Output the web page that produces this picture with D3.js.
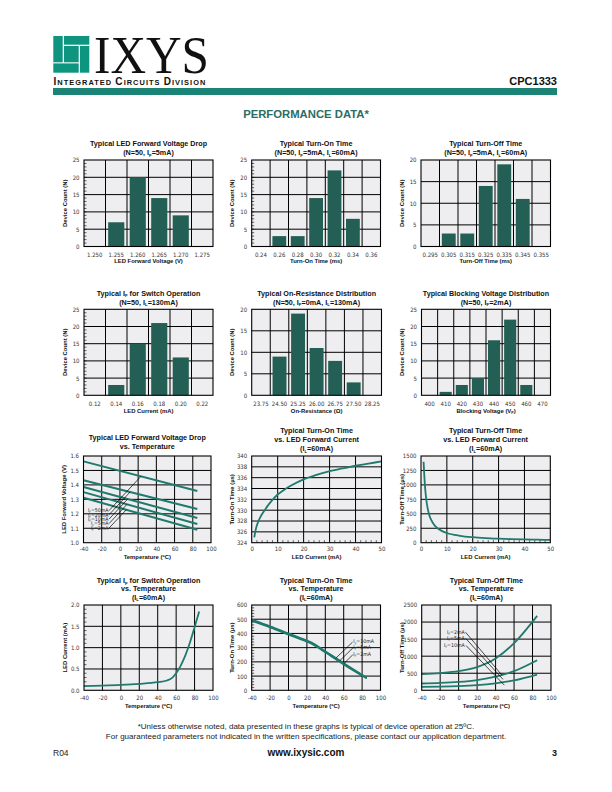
<!DOCTYPE html>
<html><head><meta charset="utf-8">
<script src="https://cdn.jsdelivr.net/npm/d3@7"></script>
<style>body{margin:0;background:#fff}svg{display:block}</style>
</head><body>
<script>
// ---------------- DATA ----------------
// Histograms
const vfCats=["1.250","1.255","1.260","1.265","1.270","1.275"];
const vfCounts=[0,7,20,14,9,0];
const tonCats=["0.24","0.26","0.28","0.30","0.32","0.34","0.36"];
const tonCounts=[0,3,3,14,22,8,0];
const toffCats=["0.295","0.305","0.315","0.325","0.335","0.345","0.355"];
const toffCounts=[0,3,3,14,19,11,0];
const ifCats=["0.12","0.14","0.16","0.18","0.20","0.22"];
const ifCounts=[0,3,15,21,11,0];
const ronCats=["23.75","24.50","25.25","26.00","26.75","27.50","28.25"];
const ronCounts=[0,9,19,11,8,3,0];
const bvCats=["400","410","420","430","440","450","460","470"];
const bvCounts=[0,1,3,5,16,22,3,0];
const countTicks25=[0,5,10,15,20,25];
const countTicks20=[0,5,10,15,20];

// LED forward voltage vs temperature
const tempTicks=[-40,-20,0,20,40,60,80,100];
const vfTempX=[-40,85];
const vf50=[1.563,1.358];
const vf20=[1.432,1.233];
const vf10=[1.385,1.171];
const vf5=[1.350,1.129];
const vf2=[1.311,1.090];
const vfLabels=["I{F}=50mA","I{F}=20mA","I{F}=10mA","I{F}=5mA","I{F}=2mA"];
const vfTicks=[1.0,1.1,1.2,1.3,1.4,1.5,1.6];

// Turn-on time vs LED current
const ledCurTicks=[0,10,20,30,40,50];
const tonCur=[1,1.5,2,3,4,5,6,8,10,12,15,20,25,30,35,40,45,50];
const tonUs=[325.0,326.3,327.2,328.4,329.3,330.0,330.7,331.9,332.9,333.6,334.5,335.7,336.5,337.2,337.7,338.2,338.6,339.0];
const tonTicks=[324,326,328,330,332,334,336,338,340];

// Turn-off time vs LED current
const toffCur=[1,1.5,2,3,4,5,6,8,10,15,20,25,30,35,40,45,50];
const toffUs=[1400,1000,760,510,390,315,265,205,168,120,95,80,70,62,56,52,48];
const toffTicks=[0,250,500,750,1000,1250,1500];

// IF for switch operation vs temperature
const ifTemp=[-40,-20,0,20,40,50,55,60,65,70,75,80,85];
const ifMa=[0.10,0.11,0.125,0.15,0.19,0.23,0.28,0.40,0.58,0.82,1.12,1.48,1.85];
const ifTicks=[0.0,0.5,1.0,1.5,2.0];

// Turn-on time vs temperature
const tonTemp=[-40,-20,0,20,25,40,60,85];
const tonT10=[497,450,400,350,336,275,190,88];
const tonT5=[493,446,396,346,332,271,186,86];
const tonT2=[489,442,392,342,328,267,182,84];
const tonTLabels=["I{F}=10mA","I{F}=5mA","I{F}=2mA"];
const tonTTicks=[0,100,200,300,400,500,600];

// Turn-off time vs temperature
const toffTemp=[-40,-20,0,20,40,60,85];
const toffT2=[475,505,560,680,930,1380,2180];
const toffT5=[200,215,245,300,400,560,880];
const toffT10=[100,105,120,150,205,290,460];
const toffTLabels=["I{F}=2mA","I{F}=5mA","I{F}=10mA"];
const toffTTicks=[0,500,1000,1500,2000,2500];

// ---------------- STYLE ----------------
const BG="#eeeef0", BAR="#235f55", LINE="#1f7a6d", TEAL="#1b8476", LOGO="#0e9580";
const SANS="'Liberation Sans',Arial,Helvetica,sans-serif";
const NARROW="'Liberation Sans Narrow','Arial Narrow','DejaVu Sans Condensed','Liberation Sans',sans-serif";
const GW=1.0;

const svg=d3.select("body").append("svg").attr("width",612).attr("height",792).attr("font-family",SANS);

function rich(sel,s){
  const fs=+sel.attr("font-size");
  const parts=[];
  s.replace(/\{([^}]*)\}|([^{]+)/g,(a,sb,nm)=>{parts.push(sb!==undefined?{t:sb,sub:true}:{t:nm,sub:false});return a;});
  let sh=false;
  parts.forEach(p=>{
    const ts=sel.append("tspan").text(p.t);
    if(p.sub){ts.attr("font-size",fs*0.6).attr("dy",fs*0.22);sh=true;}
    else if(sh){ts.attr("dy",-fs*0.22);sh=false;}
  });
  return sel;
}
function titles(cx,bases,lines){
  lines.forEach((l,i)=>{
    rich(svg.append("text").attr("x",cx).attr("y",bases[i]).attr("text-anchor","middle")
      .attr("font-size",7.2).attr("font-weight","bold").attr("fill","#111"),l);
  });
}
function xTitle(cx,base,s){
  rich(svg.append("text").attr("x",cx).attr("y",base).attr("text-anchor","middle")
    .attr("font-size",5.9).attr("font-weight","bold").attr("fill","#111"),s);
}
function yTitle(cx,cy,s){
  rich(svg.append("text").attr("transform",`translate(${cx+2.1},${cy}) rotate(-90)`).attr("text-anchor","middle")
    .attr("font-size",5.9).attr("font-weight","bold").attr("fill","#111"),s);
}
function styleTicks(a){
  a.select(".domain").remove();
  a.selectAll("text").attr("font-family",NARROW).attr("font-size",6).attr("fill","#333");
}
function gridAndFrame(g,x0,x1,y0,y1,xs,ys,x,y){
  g.append("rect").attr("x",x0).attr("y",y0).attr("width",x1-x0).attr("height",y1-y0).attr("fill",BG);
  g.append("g").selectAll("line").data(xs).join("line")
    .attr("x1",d=>x(d)).attr("x2",d=>x(d)).attr("y1",y0).attr("y2",y1).attr("stroke","#000").attr("stroke-width",GW);
  g.append("g").selectAll("line").data(ys).join("line")
    .attr("x1",x0).attr("x2",x1).attr("y1",d=>y(d)).attr("y2",d=>y(d)).attr("stroke","#000").attr("stroke-width",GW);
}
function borderRect(g,x0,x1,y0,y1){
  g.append("rect").attr("x",x0).attr("y",y0).attr("width",x1-x0).attr("height",y1-y0)
    .attr("fill","none").attr("stroke","#000").attr("stroke-width",1.1);
}
function minorY(g,y,x0,vals){
  g.append("g").selectAll("line").data(vals).join("line").attr("x1",x0).attr("x2",x0+2.5)
    .attr("y1",d=>y(d)).attr("y2",d=>y(d)).attr("stroke","#000").attr("stroke-width",0.6);
}
function minorX(g,x,y1,vals){
  g.append("g").selectAll("line").data(vals).join("line").attr("x1",d=>x(d)).attr("x2",d=>x(d))
    .attr("y1",y1).attr("y2",y1-2.5).attr("stroke","#000").attr("stroke-width",0.6);
}

function histogram(c){
  const g=svg.append("g");
  const x=d3.scaleBand().domain(c.cats).range([c.x0,c.x1]);
  const y=d3.scaleLinear().domain([0,c.yTicks[c.yTicks.length-1]]).range([c.y1,c.y0]);
  g.append("rect").attr("x",c.x0).attr("y",c.y0).attr("width",c.x1-c.x0).attr("height",c.y1-c.y0).attr("fill",BG);
  g.append("g").selectAll("line").data(c.cats.slice(1)).join("line")
    .attr("x1",d=>x(d)).attr("x2",d=>x(d)).attr("y1",c.y0).attr("y2",c.y1).attr("stroke","#000").attr("stroke-width",GW);
  g.append("g").selectAll("line").data(c.yTicks.slice(1,-1)).join("line")
    .attr("x1",c.x0).attr("x2",c.x1).attr("y1",d=>y(d)).attr("y2",d=>y(d)).attr("stroke","#000").attr("stroke-width",GW);
  if(c.minor) minorY(g,y,c.x0,d3.range(1,c.yTicks[c.yTicks.length-1]));
  g.append("g").selectAll("rect").data(c.cats).join("rect")
    .attr("x",d=>x(d)+x.bandwidth()*0.125).attr("width",x.bandwidth()*0.75)
    .attr("y",(d,i)=>y(c.counts[i])).attr("height",(d,i)=>y(0)-y(c.counts[i])).attr("fill",BAR);
  borderRect(g,c.x0,c.x1,c.y0,c.y1);
  const ay=g.append("g").attr("transform",`translate(${c.x0},0)`).call(d3.axisLeft(y).tickValues(c.yTicks).tickSize(0).tickPadding(4.5));
  styleTicks(ay);
  const ax=g.append("g").attr("transform",`translate(0,${c.y1})`).call(d3.axisBottom(x).tickSize(0));
  styleTicks(ax); ax.selectAll("text").attr("dy",null).attr("y",c.xlb-c.y1);
  titles((c.x0+c.x1)/2,c.tb,c.title);
  xTitle((c.x0+c.x1)/2,c.xtb,c.xt);
  yTitle(c.x0-19.5,(c.y0+c.y1)/2,c.yt);
}

function lineChart(c){
  const g=svg.append("g");
  const x=d3.scaleLinear().domain([c.xTicks[0],c.xTicks[c.xTicks.length-1]]).range([c.x0,c.x1]);
  const y=d3.scaleLinear().domain([c.yTicks[0],c.yTicks[c.yTicks.length-1]]).range([c.y1,c.y0]);
  gridAndFrame(g,c.x0,c.x1,c.y0,c.y1,c.xTicks.slice(1,-1),c.yTicks.slice(1,-1),x,y);
  if(c.minorY) minorY(g,y,c.x0,c.minorY);
  if(c.minorX) minorX(g,x,c.y1,c.minorX);
  const ay=g.append("g").attr("transform",`translate(${c.x0},0)`).call(d3.axisLeft(y).tickValues(c.yTicks).tickSize(0).tickPadding(4.5).tickFormat(c.yFmt||(d=>d)));
  styleTicks(ay);
  const ax=g.append("g").attr("transform",`translate(0,${c.y1})`).call(d3.axisBottom(x).tickValues(c.xTicks).tickSize(0).tickFormat(d=>d));
  styleTicks(ax); ax.selectAll("text").attr("dy",null).attr("y",c.xlb-c.y1);
  titles((c.x0+c.x1)/2,c.tb,c.title);
  xTitle((c.x0+c.x1)/2,c.xtb,c.xt);
  yTitle(c.x0-19.5,(c.y0+c.y1)/2,c.yt);
  const plot=g.append("g");
  const border=()=>borderRect(g,c.x0,c.x1,c.y0,c.y1);
  return {g:plot,x,y,border};
}
function drawLine(ch,xs,ys,w,col){
  const line=d3.line().x(d=>ch.x(d[0])).y(d=>ch.y(d[1])).curve(d3.curveMonotoneX);
  ch.g.append("path").attr("d",line(xs.map((v,i)=>[v,ys[i]]))).attr("fill","none")
    .attr("stroke",col||LINE).attr("stroke-width",w||1.8).attr("stroke-linecap","butt");
}
function leader(ch,a,b){
  ch.g.append("line").attr("x1",ch.x(a[0])).attr("y1",ch.y(a[1])).attr("x2",ch.x(b[0])).attr("y2",ch.y(b[1]))
    .attr("stroke","#000").attr("stroke-width",0.7);
}
function label(ch,p,s,anchor){
  rich(ch.g.append("text").attr("x",ch.x(p[0])).attr("y",ch.y(p[1])).attr("text-anchor",anchor)
    .attr("font-family",NARROW).attr("font-size",5.2).attr("fill","#222"),s);
}

// ---------------- HEADER ----------------
const lg=svg.append("g").attr("fill",LOGO);
lg.append("rect").attr("x",53.3).attr("y",36).attr("width",9.4).attr("height",26.3);
lg.append("rect").attr("x",64).attr("y",36).attr("width",25.3).attr("height",8.7);
lg.append("rect").attr("x",80).attr("y",46).attr("width",9.3).attr("height",26.7);
lg.append("rect").attr("x",53.3).attr("y",63.4).attr("width",25.4).attr("height",9.3);
lg.append("rect").attr("x",64).attr("y",46).attr("width",14.7).attr("height",16.3);
svg.append("text").attr("x",94).attr("y",72.5).attr("font-family","'Liberation Serif','Times New Roman',serif")
  .attr("font-size",53).attr("textLength",115).attr("lengthAdjust","spacingAndGlyphs").attr("fill","#111").text("IXYS");
const sc=svg.append("text").attr("x",53.5).attr("y",84.5).attr("font-weight","bold").attr("fill","#111")
  .attr("letter-spacing",1.05);
[["I",10],["NTEGRATED ",7.4],["C",10],["IRCUITS ",7.4],["D",10],["IVISION",7.4]].forEach(([t,s])=>sc.append("tspan").attr("font-size",s).text(t));
svg.append("text").attr("x",557).attr("y",84.5).attr("text-anchor","end").attr("font-weight","bold")
  .attr("font-size",11).attr("fill","#111").text("CPC1333");
svg.append("rect").attr("x",53).attr("y",88).attr("width",504).attr("height",7).attr("fill",TEAL);
svg.append("text").attr("x",306).attr("y",117.5).attr("text-anchor","middle").attr("font-weight","bold")
  .attr("font-size",11.3).attr("fill","#2b6e63").text("PERFORMANCE DATA*");

// ---------------- ROW 1 ----------------
const R1={y0:160,y1:246.5,tb:[146.3,155.3],xlb:256.5,xtb:263.3};
histogram({...R1,x0:84,x1:213,cats:vfCats,counts:vfCounts,yTicks:countTicks25,minor:true,
  title:["Typical LED Forward Voltage Drop","(N=50, I{F}=5mA)"],xt:"LED Forward Voltage (V)",yt:"Device Count (N)"});
histogram({...R1,x0:251.7,x1:380.5,cats:tonCats,counts:tonCounts,yTicks:countTicks25,minor:true,
  title:["Typical Turn-On Time","(N=50, I{F}=5mA, I{L}=60mA)"],xt:"Turn-On Time (ms)",yt:"Device Count (N)"});
histogram({...R1,x0:421,x1:550.5,cats:toffCats,counts:toffCounts,yTicks:countTicks20,minor:false,
  title:["Typical Turn-Off Time","(N=50, I{F}=5mA, I{L}=60mA)"],xt:"Turn-Off Time (ms)",yt:"Device Count (N)"});

// ---------------- ROW 2 ----------------
const R2={y0:309.3,y1:395.3,tb:[295.5,304.5],xlb:405.7,xtb:412.5};
histogram({...R2,x0:84,x1:213,cats:ifCats,counts:ifCounts,yTicks:countTicks25,minor:true,
  title:["Typical I{F} for Switch Operation","(N=50, I{L}=130mA)"],xt:"LED Current (mA)",yt:"Device Count (N)"});
histogram({...R2,x0:251.7,x1:381.5,cats:ronCats,counts:ronCounts,yTicks:countTicks20,minor:false,
  title:["Typical On-Resistance Distribution","(N=50, I{F}=0mA, I{L}=130mA)"],xt:"On-Resistance (Ω)",yt:"Device Count (N)"});
histogram({...R2,x0:421.5,x1:550.5,cats:bvCats,counts:bvCounts,yTicks:countTicks25,minor:false,
  title:["Typical Blocking Voltage Distribution","(N=50, I{F}=2mA)"],xt:"Blocking Voltage (V{P})",yt:"Device Count (N)"});

// ---------------- ROW 3 ----------------
const R3={y0:456,y1:542.7,xlb:551.5,xtb:559};
const c7=lineChart({...R3,x0:83.5,x1:211,xTicks:tempTicks,yTicks:vfTicks,yFmt:d3.format(".1f"),
  tb:[440,449.3],title:["Typical LED Forward Voltage Drop","vs. Temperature"],xt:"Temperature (ºC)",yt:"LED Forward Voltage (V)"});
[vf50,vf20,vf10,vf5,vf2].forEach(v=>drawLine(c7,vfTempX,v,2.0));
const vfLabY=[1.210,1.181,1.151,1.120,1.089];
const vfLeadEnd=[[23.2,1.460],[11.2,1.351],[8.5,1.302],[7.8,1.266],[7.0,1.228]];
vfLabels.forEach((s,i)=>{label(c7,[-12.5,vfLabY[i]],s,"end");leader(c7,[-12,vfLabY[i]+0.012],vfLeadEnd[i]);});
c7.border();

const c8=lineChart({...R3,x0:251.7,x1:381.5,xTicks:ledCurTicks,yTicks:tonTicks,minorX:d3.range(2,50,2).filter(d=>d%10),
  tb:[433,442,451.3],title:["Typical Turn-On Time","vs. LED Forward Current","(I{L}=60mA)"],xt:"LED Current (mA)",yt:"Turn-On Time (µs)"});
drawLine(c8,tonCur,tonUs,1.8);
c8.border();

const c9=lineChart({...R3,x0:421,x1:550.3,xTicks:ledCurTicks,yTicks:toffTicks,minorX:d3.range(2,50,2).filter(d=>d%10),
  tb:[433,442,451.3],title:["Typical Turn-Off Time","vs. LED Forward Current","(I{L}=60mA)"],xt:"LED Current (mA)",yt:"Turn-Off Time (µs)"});
drawLine(c9,toffCur,toffUs,1.8);
c9.border();

// ---------------- ROW 4 ----------------
const R4={y0:605,y1:690.3,xlb:700.3,xtb:707.7,tb:[583,591.2,599.5]};
const c10=lineChart({...R4,x0:84,x1:213,xTicks:tempTicks,yTicks:ifTicks,yFmt:d3.format(".1f"),
  minorY:d3.range(0.1,2.0,0.1).filter((d,i)=>(i+1)%5),
  title:["Typical I{F} for Switch Operation","vs. Temperature","(I{L}=60mA)"],xt:"Temperature (ºC)",yt:"LED Current (mA)"});
drawLine(c10,ifTemp,ifMa,1.8);
c10.border();

const c11=lineChart({...R4,x0:251.7,x1:380.5,xTicks:tempTicks,yTicks:tonTTicks,
  minorY:d3.range(20,600,20).filter(d=>d%100),
  title:["Typical Turn-On Time","vs. Temperature","(I{L}=60mA)"],xt:"Temperature (ºC)",yt:"Turn-On Time (µs)"});
[tonT10,tonT5,tonT2].forEach(v=>drawLine(c11,tonTemp,v,1.8));
const tonLabY=[330,289,241];
const tonLeadA=[[69.5,338],[70,298],[70,251]];
const tonLeadB=[[51.4,226],[55.7,208],[60.3,188]];
tonTLabels.forEach((s,i)=>{label(c11,[70.5,tonLabY[i]],s,"start");leader(c11,tonLeadA[i],tonLeadB[i]);});
c11.border();

const c12=lineChart({...R4,x0:421.7,x1:551,xTicks:tempTicks,yTicks:toffTTicks,
  title:["Typical Turn-Off Time","vs. Temperature","(I{L}=60mA)"],xt:"Temperature (ºC)",yt:"Turn-Off Time (µs)"});
[toffT2,toffT5,toffT10].forEach(v=>drawLine(c12,toffTemp,v,1.8));
const toffLabY=[1650,1475,1262];
const toffLeadA=[[7.5,1700],[7.5,1525],[8,1312]];
const toffLeadB=[[47,440],[48,320],[49.5,150]];
toffTLabels.forEach((s,i)=>{label(c12,[6.5,toffLabY[i]],s,"end");leader(c12,toffLeadA[i],toffLeadB[i]);});
c12.border();

// ---------------- FOOTER ----------------
svg.append("text").attr("x",306).attr("y",729).attr("text-anchor","middle").attr("font-size",8.05).attr("fill","#222")
  .text("*Unless otherwise noted, data presented in these graphs is typical of device operation at 25ºC.");
svg.append("text").attr("x",306).attr("y",739).attr("text-anchor","middle").attr("font-size",8.05).attr("fill","#222")
  .text("For guaranteed parameters not indicated in the written specifications, please contact our application department.");
svg.append("text").attr("x",53).attr("y",755.5).attr("font-size",8.5).attr("fill","#222").text("R04");
svg.append("text").attr("x",306).attr("y",755.5).attr("text-anchor","middle").attr("font-size",10).attr("font-weight","bold").attr("fill","#111").text("www.ixysic.com");
svg.append("text").attr("x",557).attr("y",755.5).attr("text-anchor","end").attr("font-size",9).attr("font-weight","bold").attr("fill","#111").text("3");
</script>
</body></html>
